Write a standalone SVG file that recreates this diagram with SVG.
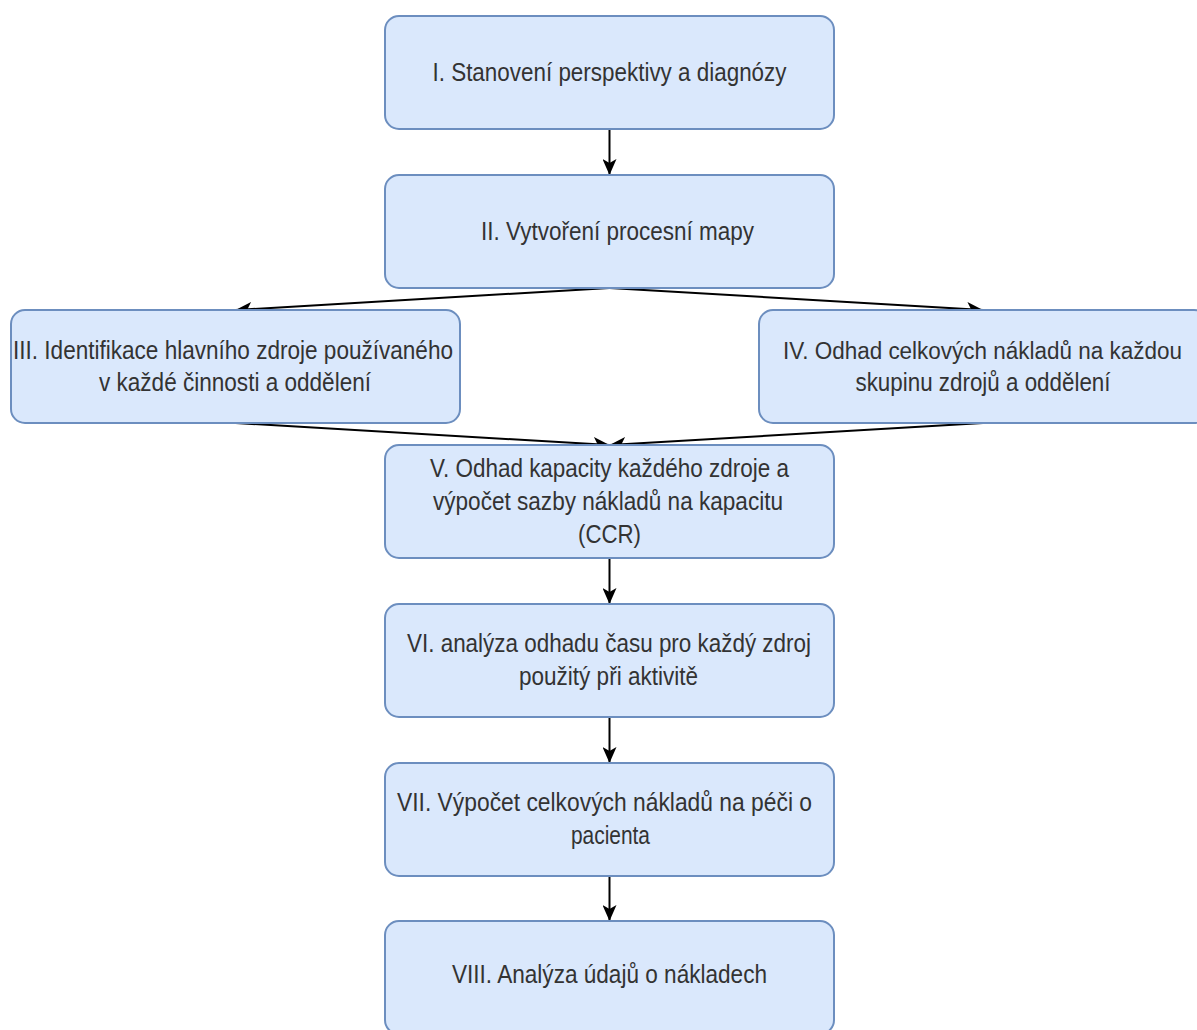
<svg xmlns="http://www.w3.org/2000/svg" width="1197" height="1030" viewBox="0 0 1197 1030">
<defs>
<style>
.box{fill:#dae8fc;stroke:#6c8ebf;stroke-width:2}
.lbl{font-family:"Liberation Sans",Arial,sans-serif;font-size:25px;fill:#333333;text-anchor:middle}
.edge{fill:none;stroke:#000000;stroke-width:2;marker-end:url(#arr)}
</style>
<marker id="arr" markerUnits="userSpaceOnUse" viewBox="0 0 16 14" markerWidth="16" markerHeight="14" refX="16" refY="7" orient="auto">
<path d="M0,0 L16,7 L0,14 L4,7 Z" fill="#000000"/>
</marker>
</defs>
<rect width="1197" height="1030" fill="#ffffff"/>
<g id="connectors">
<line class="edge" x1="609.5" y1="129" x2="609.5" y2="175"/>
<line class="edge" x1="609.5" y1="288" x2="235.5" y2="310"/>
<line class="edge" x1="609.5" y1="288" x2="983" y2="310"/>
<line class="edge" x1="235.5" y1="423" x2="609.5" y2="445"/>
<line class="edge" x1="983" y1="423" x2="609.5" y2="445"/>
<line class="edge" x1="609.5" y1="558" x2="609.5" y2="604"/>
<line class="edge" x1="609.5" y1="717" x2="609.5" y2="763"/>
<line class="edge" x1="609.5" y1="876" x2="609.5" y2="921"/>
</g>
<g id="node1">
<rect class="box" x="385" y="16" width="449" height="113" rx="14"/>
<text class="lbl" x="609.5" y="81" textLength="354" lengthAdjust="spacingAndGlyphs">I. Stanovení perspektivy a diagnózy</text>
</g>
<g id="node2">
<rect class="box" x="385" y="175" width="449" height="113" rx="14"/>
<text class="lbl" x="617.5" y="240" textLength="273" lengthAdjust="spacingAndGlyphs">II. Vytvoření procesní mapy</text>
</g>
<g id="node3">
<rect class="box" x="11" y="310" width="449" height="113" rx="14"/>
<text class="lbl" x="233" y="359" textLength="440" lengthAdjust="spacingAndGlyphs">III. Identifikace hlavního zdroje používaného</text>
<text class="lbl" x="235" y="391" textLength="272" lengthAdjust="spacingAndGlyphs">v každé činnosti a oddělení</text>
</g>
<g id="node4">
<rect class="box" x="759" y="310" width="449" height="113" rx="14"/>
<text class="lbl" x="982.5" y="359" style="font-size:23px" textLength="399" lengthAdjust="spacingAndGlyphs">IV. Odhad celkových nákladů na každou</text>
<text class="lbl" x="983" y="391" textLength="255" lengthAdjust="spacingAndGlyphs">skupinu zdrojů a oddělení</text>
</g>
<g id="node5">
<rect class="box" x="385" y="445" width="449" height="113" rx="14"/>
<text class="lbl" x="609.5" y="477" textLength="359" lengthAdjust="spacingAndGlyphs">V. Odhad kapacity každého zdroje a</text>
<text class="lbl" x="608" y="510" textLength="350" lengthAdjust="spacingAndGlyphs">výpočet sazby nákladů na kapacitu</text>
<text class="lbl" x="609.5" y="543" textLength="63" lengthAdjust="spacingAndGlyphs">(CCR)</text>
</g>
<g id="node6">
<rect class="box" x="385" y="604" width="449" height="113" rx="14"/>
<text class="lbl" x="609" y="652" textLength="404" lengthAdjust="spacingAndGlyphs">VI. analýza odhadu času pro každý zdroj</text>
<text class="lbl" x="608.5" y="685" textLength="179" lengthAdjust="spacingAndGlyphs">použitý při aktivitě</text>
</g>
<g id="node7">
<rect class="box" x="385" y="763" width="449" height="113" rx="14"/>
<text class="lbl" x="604.5" y="811" textLength="415" lengthAdjust="spacingAndGlyphs">VII. Výpočet celkových nákladů na péči o</text>
<text class="lbl" x="610.5" y="844" textLength="79" lengthAdjust="spacingAndGlyphs">pacienta</text>
</g>
<g id="node8">
<rect class="box" x="385" y="921" width="449" height="113" rx="14"/>
<text class="lbl" x="609.5" y="983" textLength="315" lengthAdjust="spacingAndGlyphs">VIII. Analýza údajů o nákladech</text>
</g>
</svg>
